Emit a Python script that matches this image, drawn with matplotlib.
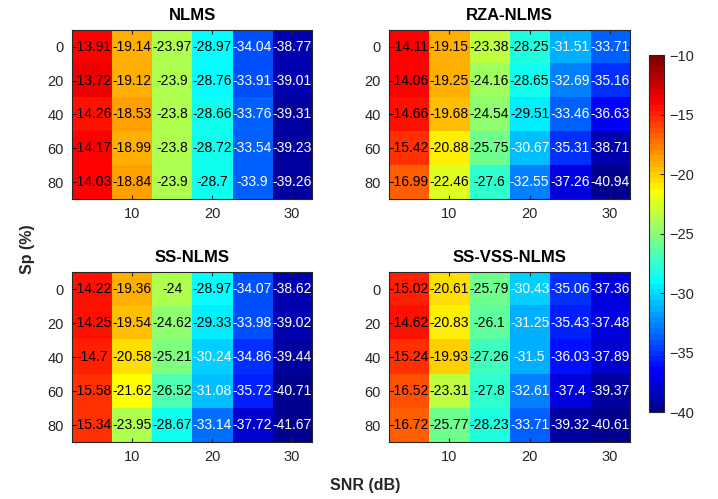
import numpy as np
from matplotlib import pyplot as plt
from matplotlib.colors import ListedColormap

plt.rcParams['font.family'] = ['Liberation Sans', 'DejaVu Sans']

snr = [5, 10, 15, 20, 25, 30]
sp = [0, 20, 40, 60, 80]

titles = ['NLMS', 'RZA-NLMS', 'SS-NLMS', 'SS-VSS-NLMS']

nlms = [[-13.91, -19.14, -23.97, -28.97, -34.04, -38.77],
        [-13.72, -19.12, -23.9, -28.76, -33.91, -39.01],
        [-14.26, -18.53, -23.8, -28.66, -33.76, -39.31],
        [-14.17, -18.99, -23.8, -28.72, -33.54, -39.23],
        [-14.03, -18.84, -23.9, -28.7, -33.9, -39.26]]

rza_nlms = [[-14.11, -19.15, -23.38, -28.25, -31.51, -33.71],
            [-14.06, -19.25, -24.16, -28.65, -32.69, -35.16],
            [-14.66, -19.68, -24.54, -29.51, -33.46, -36.63],
            [-15.42, -20.88, -25.75, -30.67, -35.31, -38.71],
            [-16.99, -22.46, -27.6, -32.55, -37.26, -40.94]]

ss_nlms = [[-14.22, -19.36, -24, -28.97, -34.07, -38.62],
           [-14.25, -19.54, -24.62, -29.33, -33.98, -39.02],
           [-14.7, -20.58, -25.21, -30.24, -34.86, -39.44],
           [-15.58, -21.62, -26.52, -31.08, -35.72, -40.71],
           [-15.34, -23.95, -28.67, -33.14, -37.72, -41.67]]

ss_vss_nlms = [[-15.02, -20.61, -25.79, -30.43, -35.06, -37.36],
               [-14.62, -20.83, -26.1, -31.25, -35.43, -37.48],
               [-15.24, -19.93, -27.26, -31.5, -36.03, -37.89],
               [-16.52, -23.31, -27.8, -32.61, -37.4, -39.37],
               [-16.72, -25.77, -28.23, -33.71, -39.32, -40.61]]


def matlab_jet(n=64):
    # same construction as MATLAB's jet(n)
    m = int(np.ceil(n / 4))
    u = np.concatenate([np.arange(1, m + 1) / m, np.ones(m - 1),
                        np.arange(m, 0, -1) / m])
    g = int(np.ceil(m / 2)) - (n % 4 == 1) + np.arange(1, len(u) + 1)
    r = g + m
    b = g - m
    g = g[g <= n]
    r = r[r <= n]
    b = b[b >= 1]
    J = np.zeros((n, 3))
    J[r - 1, 0] = u[:len(r)]
    J[g - 1, 1] = u[:len(g)]
    J[b - 1, 2] = u[len(u) - len(b):]
    return ListedColormap(J)


grey = '#262626'
cmap = matlab_jet(64)

fig = plt.figure(figsize=(7.18, 4.99), dpi=100)
positions = [[0.1003, 0.6012, 0.3343, 0.3387],
             [0.5418, 0.6012, 0.3357, 0.3387],
             [0.1003, 0.1142, 0.3343, 0.3407],
             [0.5418, 0.1142, 0.3357, 0.3407]]

dx = snr[1] - snr[0]
dy = sp[1] - sp[0]
for pos, title, data in zip(positions, titles, [nlms, rza_nlms, ss_nlms, ss_vss_nlms]):
    ax = fig.add_axes(pos)
    arr = np.array(data)
    im = ax.imshow(arr, cmap=cmap, vmin=-40, vmax=-10, aspect='auto',
                   interpolation='nearest',
                   extent=[snr[0] - dx / 2, snr[-1] + dx / 2,
                           sp[-1] + dy / 2, sp[0] - dy / 2])
    for i, y in enumerate(sp):
        for j, x in enumerate(snr):
            v = arr[i, j]
            ax.text(x, y, f'{v:g}', ha='center', va='center', fontsize=10,
                    color='white' if v < -30 else 'black')
    ax.set_xticks([10, 20, 30])
    ax.set_yticks(sp)
    ax.tick_params(direction='in', top=True, right=True, length=3,
                   colors=grey, labelsize=10.5, labelcolor=grey, pad=6)
    for s in ax.spines.values():
        s.set_color(grey)
        s.set_linewidth(0.8)
    ax.set_title(title, fontsize=12, fontweight='bold', color='black', pad=7)

cax = fig.add_axes([0.904, 0.1743, 0.0209, 0.7154])
cb = fig.colorbar(im, cax=cax, ticks=[-10, -15, -20, -25, -30, -35, -40])
cb.ax.tick_params(direction='in', length=3, colors=grey, labelsize=10.5,
                  labelcolor=grey)
cb.outline.set_edgecolor(grey)
cb.outline.set_linewidth(0.8)

fig.text(0.508, 0.028, 'SNR (dB)', ha='center', va='center', fontsize=11.5,
         fontweight='bold', color=grey)
fig.text(0.038, 0.5, 'Sp (%)', ha='center', va='center', rotation=90,
         fontsize=11.5, fontweight='bold', color=grey)

fig.savefig('out.png', dpi=100)
